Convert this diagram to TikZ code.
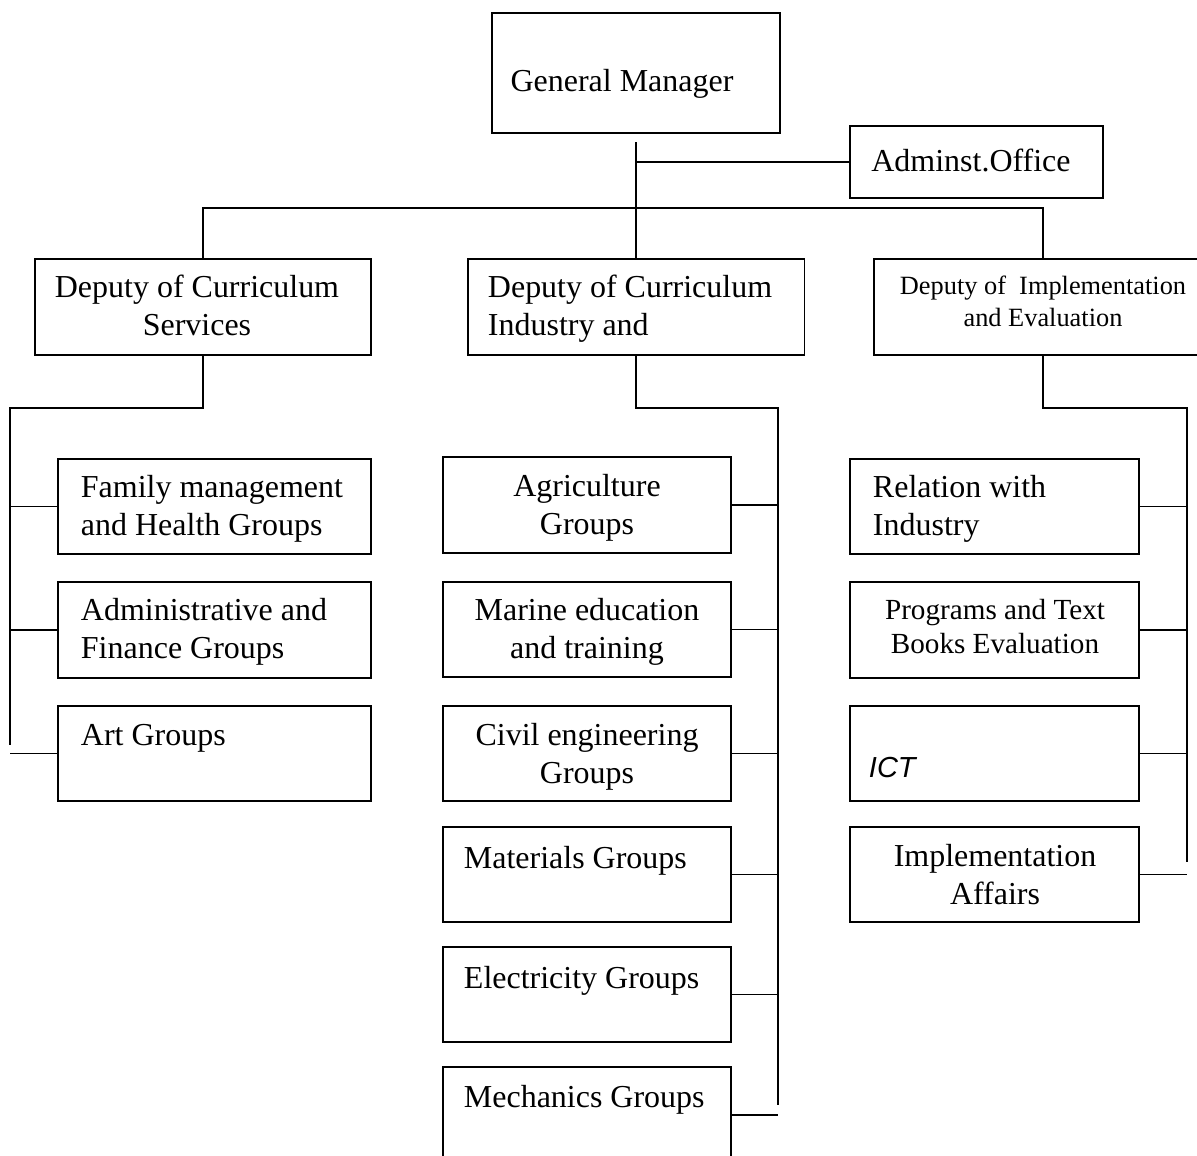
\documentclass[tikz,border=0pt]{standalone}
\usepackage{fontspec}
\setmainfont{Liberation Serif}
\newfontfamily\arialfont{Liberation Sans}
\usepackage{tikz}
\usetikzlibrary{calc}
\tikzset{box/.style={draw,line width=1.1pt,inner sep=0pt}}
\tikzset{txt/.style={inner sep=0pt,font=\fontsize{18.2}{21.2}\selectfont}}

\begin{document}
\begin{tikzpicture}
[x=0.02cm, y=-0.02cm, line width=1.1pt,
 grp/.style={box,minimum width=5.76cm,minimum height=1.91cm},
 sgrp/.style={box,minimum width=6.26cm,minimum height=1.91cm}]
\useasboundingbox (0,0) rectangle (1197,1156);
% top level
\node (gm) at (636,73)[box,minimum width=5.76cm,minimum height=2.4cm]{};
\node (gmtext) at (622,91)[txt,anchor=base]{General Manager};
\node (adm) at (976.5,162)[box,minimum width=5.06cm,minimum height=1.44cm]{};
\node (admtext) at (971,171)[txt,anchor=base]{Adminst.Office};

% deputies (base = last line)
\node (dep1) at (203,307)[box,minimum width=6.72cm,minimum height=1.92cm]{};
\node (dep1text) at (197,335)[txt,anchor=base,align=center]{Deputy of Curriculum\\Services};
\node (dep2) at (636,307)[box,minimum width=6.74cm,minimum height=1.92cm]{};
\node (dep2text) at (487,335)[txt,anchor=base west,align=left]{Deputy of Curriculum\\Industry and};
\node (dep3) at (1043,307)[box,minimum width=6.76cm,minimum height=1.92cm]{};
\node (dep3text) at (1043,326)[txt,anchor=base,align=center,font=\fontsize{15}{18.1}\selectfont]{Deputy of~ Implementation\\and Evaluation};

\coordinate (j0) at (636,142);
\draw (j0) -- (dep2.north);
\draw (adm.west) -- (adm.west -| j0);
\draw (dep1.north) -- ++(0,-50) -| (dep3.north);

% left column
\node (fam) at (214.5,506.5)[sgrp]{};
\node (famtext) at (80,535)[txt,anchor=base west,align=left]{Family management\\and Health Groups};
\node (fin) at (214.5,630)[sgrp]{};
\node (fintext) at (80,658)[txt,anchor=base west,align=left]{Administrative and\\Finance Groups};
\node (art) at (214.5,753.5)[sgrp]{};
\node (arttext) at (80,745)[txt,anchor=base west]{Art Groups};

\coordinate (lbus) at (10,745);
\draw (dep1.south) -- ++(0,52) -| (lbus);
\foreach \n in {fam,fin,art}
  \draw (\n.west) -- (\n.west -| lbus);

% middle column
\node (agr) at (587,505)[grp]{};
\node (agrtext) at (587,534)[txt,anchor=base,align=center]{Agriculture\\Groups};
\node (mar) at (587,629.5)[grp]{};
\node (martext) at (587,658)[txt,anchor=base,align=center]{Marine education\\and training};
\node (civ) at (587,753.5)[grp]{};
\node (civtext) at (587,783)[txt,anchor=base,align=center]{Civil engineering\\Groups};
\node (mat) at (587,874.5)[grp]{};
\node (mattext) at (463,868)[txt,anchor=base west]{Materials Groups};
\node (ele) at (587,994.5)[grp]{};
\node (eletext) at (463,988)[txt,anchor=base west]{Electricity Groups};
\node (mec) at (587,1115)[grp]{};
\node (mectext) at (463,1107)[txt,anchor=base west]{Mechanics Groups};

\coordinate (mbus) at (778,1105);
\draw (dep2.south) -- ++(0,52) -| (mbus);
\foreach \n in {agr,mar,civ,mat,ele,mec}
  \draw (\n.east) -- (\n.east -| mbus);

% right column
\node (rel) at (994.5,506.5)[grp,minimum width=5.78cm]{};
\node (reltext) at (872,535)[txt,anchor=base west,align=left]{Relation with\\Industry};
\node (prg) at (994.5,630)[grp,minimum width=5.78cm]{};
\node (prgtext) at (995,653)[txt,anchor=base,align=center,font=\fontsize{16.6}{18.8}\selectfont]{Programs and Text\\Books Evaluation};
\node (ict) at (994.5,753.5)[grp,minimum width=5.78cm]{};
\node (icttext) at (868,777)[txt,anchor=base west,font=\arialfont\itshape\fontsize{16.5}{19}\selectfont]{ICT};
\node (imp) at (994.5,874.5)[grp,minimum width=5.78cm]{};
\node (imptext) at (995,904)[txt,anchor=base,align=center]{Implementation\\Affairs};

\coordinate (rbus) at (1187,862);
\draw (dep3.south) -- ++(0,52) -| (rbus);
\foreach \n in {rel,prg,ict,imp}
  \draw (\n.east) -- (\n.east -| rbus);
\end{tikzpicture}
\end{document}
